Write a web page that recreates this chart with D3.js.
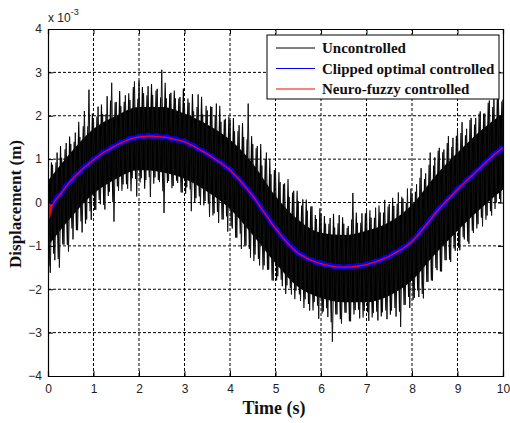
<!DOCTYPE html>
<html>
<head>
<meta charset="utf-8">
<script src="https://cdn.jsdelivr.net/npm/d3@7"></script>
<style>
  body { margin: 0; background: #fff; }
  svg { display: block; }
  .tick text { font-family: "Liberation Sans", Arial, sans-serif; font-size: 12px; fill: #222; }
  .lbl { font-family: "Liberation Serif", "Times New Roman", serif; font-weight: bold; fill: #111; }
</style>
</head>
<body>
<svg class="one"></svg>
<script>
// displacement values are in units of 1e-3 m (axis shows "x 10^-3")
var xTicks = [0,1,2,3,4,5,6,7,8,9,10];
var yTicks = [-4,-3,-2,-1,0,1,2,3,4];
var seriesNames = ['Uncontrolled','Clipped optimal controlled','Neuro-fuzzy controlled'];
var seriesColors = ['#000000','#0000ff','#ff0000'];

// sample times, every 0.1 s
var time = d3.range(101).map(function(i){ return i/10; });

// uncontrolled: long spike tips per sample
var uncontrolledHi = [1.03,0.87,1.15,1.03,1.37,1.35,1.61,1.51,2.11,2.60,
  1.93,2.21,2.04,2.45,2.76,2.32,2.22,2.47,2.36,2.79,
  2.81,2.52,2.68,2.48,2.62,3.06,2.40,2.53,2.40,2.43,
  2.25,2.30,2.10,2.49,2.03,2.12,2.20,2.28,1.86,1.93,
  1.90,1.64,1.78,1.51,2.28,1.35,1.30,0.85,1.15,0.65,
  0.75,0.47,0.44,0.13,0.27,0.03,0.07,-0.19,-0.09,-0.38,
  -0.26,-0.49,-0.36,-0.58,-0.29,-0.49,-0.54,0.22,-0.47,-0.25,
  -0.13,-0.35,-0.12,-0.23,0.06,-0.04,-0.08,0.23,0.09,0.32,
  0.20,0.42,0.79,0.67,1.15,1.04,1.26,1.22,1.53,1.49,
  1.70,1.85,1.70,1.95,1.95,2.10,2.05,2.35,2.40,2.38,
  2.37];
var uncontrolledLo = [-1.62,-1.33,-1.50,-0.97,-1.13,-0.85,-0.64,-0.69,-0.39,-0.40,
  -0.17,-0.04,-0.16,0.25,-0.44,0.27,0.42,0.32,0.56,0.14,
  0.56,0.52,0.13,0.58,0.47,-0.24,0.50,0.38,0.45,0.23,
  0.35,-0.20,0.10,-0.06,0.03,-0.33,-0.25,-0.47,-0.39,-0.67,
  -0.60,-0.81,-1.07,-0.99,-1.27,-1.20,-1.45,-1.45,-1.55,-1.80,
  -1.70,-1.93,-1.91,-2.12,-2.03,-2.27,-2.23,-2.49,-2.29,-2.68,
  -2.51,-2.64,-3.21,-2.58,-2.79,-2.54,-2.74,-2.48,-2.67,-2.50,
  -2.73,-2.55,-2.72,-2.53,-2.69,-2.49,-2.63,-2.87,-2.36,-2.43,
  -2.20,-2.18,-2.21,-1.83,-1.80,-1.56,-1.59,-1.33,-1.37,-1.11,
  -1.10,-0.85,-0.95,-0.70,-0.50,-0.55,-0.30,-0.30,0.00,-0.02,
  0.22];
// uncontrolled: medium spike tips, between the long ones
var uncontrolledHi2 = [0.93,0.92,1.30,1.23,1.52,1.40,1.86,1.76,1.76,2.05,
  1.98,2.26,2.04,2.35,2.31,2.57,2.32,2.52,2.66,2.39,
  2.66,2.47,2.73,2.58,2.42,2.76,2.50,2.58,2.40,2.63,
  2.40,2.50,2.20,2.44,2.23,2.22,2.00,2.23,1.91,1.98,
  1.95,1.64,1.83,1.46,1.53,1.25,1.35,1.00,1.00,0.75,
  0.70,0.42,0.54,0.23,0.27,-0.07,0.07,-0.09,-0.29,-0.13,
  -0.31,-0.49,-0.26,-0.48,-0.34,-0.59,-0.39,-0.23,-0.47,-0.25,
  -0.18,-0.35,-0.07,-0.23,-0.09,0.11,-0.03,0.13,-0.01,0.32,
  0.25,0.57,0.54,0.87,0.85,1.19,1.16,1.37,1.28,1.54,
  1.60,1.55,1.90,1.80,2.05,2.05,2.30,2.20,2.40,2.33,
  2.45];
var uncontrolledLo2 = [-1.47,-1.18,-1.30,-0.97,-0.98,-0.60,-0.64,-0.44,-0.49,-0.20,
  -0.17,0.06,-0.06,0.15,0.01,0.37,0.27,0.42,0.26,0.54,
  0.46,0.32,0.58,0.43,0.52,0.26,0.45,0.33,0.50,0.23,
  0.20,0.30,0.00,0.14,-0.07,-0.03,-0.30,-0.22,-0.39,-0.32,
  -0.55,-0.81,-0.72,-0.99,-1.07,-1.35,-1.30,-1.55,-1.55,-1.80,
  -1.80,-1.78,-2.11,-1.97,-2.23,-2.12,-2.43,-2.34,-2.49,-2.38,
  -2.56,-2.44,-2.76,-2.58,-2.69,-2.54,-2.74,-2.58,-2.47,-2.65,
  -2.53,-2.65,-2.52,-2.63,-2.49,-2.59,-2.43,-2.52,-2.36,-2.18,
  -2.25,-2.03,-2.11,-1.83,-1.80,-1.51,-1.59,-1.33,-1.32,-1.06,
  -1.05,-0.80,-0.90,-0.65,-0.60,-0.35,-0.40,-0.20,-0.15,0.08,
  0.15];

// uncontrolled: solid dense core, every 0.5 s
var coreTime = [0,0.5,1,1.5,2,2.5,3,3.5,4,4.5,5,5.5,6,6.5,7,7.5,8,8.5,9,9.5,10];
var coreHi = [0.5,1.15,1.7,2.0,2.2,2.2,2.05,1.8,1.45,0.9,0.15,-0.4,-0.7,-0.75,-0.65,-0.45,-0.05,0.6,1.15,1.65,2.05];
var coreLo = [-1.0,-0.35,0.2,0.55,0.75,0.7,0.55,0.25,-0.15,-0.75,-1.4,-1.95,-2.2,-2.3,-2.3,-2.15,-1.8,-1.2,-0.65,-0.15,0.3];

var clipped = [-0.25,-0.05,0.13,0.21,0.40,0.48,0.63,0.70,0.83,0.89,
  1.00,1.05,1.16,1.19,1.28,1.31,1.39,1.41,1.48,1.48,
  1.53,1.51,1.55,1.52,1.54,1.50,1.52,1.47,1.47,1.42,
  1.42,1.34,1.32,1.23,1.20,1.11,1.07,0.97,0.93,0.82,
  0.77,0.63,0.55,0.40,0.30,0.14,0.02,-0.16,-0.28,-0.46,
  -0.58,-0.74,-0.84,-0.98,-1.06,-1.18,-1.21,-1.30,-1.32,-1.39,
  -1.39,-1.45,-1.44,-1.49,-1.47,-1.50,-1.47,-1.49,-1.45,-1.46,
  -1.41,-1.41,-1.35,-1.34,-1.27,-1.25,-1.16,-1.13,-1.04,-0.99,
  -0.88,-0.79,-0.64,-0.54,-0.38,-0.27,-0.12,-0.04,0.10,0.18,
  0.32,0.39,0.52,0.59,0.72,0.79,0.92,0.99,1.12,1.17,
  1.29];

var neuro = [-0.17,-0.03,0.10,0.23,0.37,0.50,0.61,0.71,0.81,0.90,
  0.98,1.06,1.14,1.20,1.26,1.32,1.37,1.42,1.46,1.49,
  1.51,1.52,1.53,1.53,1.52,1.51,1.50,1.48,1.45,1.43,
  1.40,1.35,1.30,1.24,1.18,1.12,1.05,0.98,0.91,0.83,
  0.75,0.64,0.53,0.41,0.28,0.15,0.00,-0.15,-0.30,-0.45,
  -0.60,-0.73,-0.86,-0.97,-1.08,-1.17,-1.23,-1.29,-1.34,-1.38,
  -1.41,-1.44,-1.46,-1.48,-1.49,-1.49,-1.49,-1.48,-1.47,-1.45,
  -1.43,-1.40,-1.37,-1.33,-1.29,-1.24,-1.18,-1.12,-1.06,-0.98,
  -0.90,-0.78,-0.66,-0.53,-0.40,-0.26,-0.14,-0.03,0.08,0.19,
  0.30,0.40,0.50,0.60,0.70,0.80,0.90,1.00,1.10,1.18,
  1.27];
// start-up transient of the neuro-fuzzy response
var neuroStartTime = [0,0.01,0.02,0.03,0.04,0.05,0.06,0.08,0.1];
var neuroStart = [-0.40,0.00,-0.38,-0.02,-0.33,-0.05,-0.25,-0.10,-0.03];

var svgwidth = 510, svgheight = 423;
var margins = {top:29, bottom:47, left:48, right:7};

var svg = d3.select('.one').attr('width',svgwidth).attr('height',svgheight);

var xScale = d3.scaleLinear().domain([0,10]).range([margins.left, svgwidth - margins.right]);
var yScale = d3.scaleLinear().domain([-4,4]).range([svgheight - margins.bottom, margins.top]);

svg.append('defs').append('clipPath').attr('id','plotclip')
   .append('rect')
   .attr('x',xScale(0)).attr('y',yScale(4))
   .attr('width',xScale(10)-xScale(0)).attr('height',yScale(-4)-yScale(4));

// grid
var grid = svg.append('g');
grid.selectAll('.gx').data(xTicks.slice(1,-1)).enter().append('line')
    .attr('x1',function(d){return xScale(d);}).attr('x2',function(d){return xScale(d);})
    .attr('y1',yScale(-4)).attr('y2',yScale(4))
    .attr('stroke','#000').attr('stroke-width',1).attr('stroke-dasharray','3,2');
grid.selectAll('.gy').data(yTicks.slice(1,-1)).enter().append('line')
    .attr('y1',function(d){return yScale(d);}).attr('y2',function(d){return yScale(d);})
    .attr('x1',xScale(0)).attr('x2',xScale(10))
    .attr('stroke','#000').attr('stroke-width',1).attr('stroke-dasharray','3,2');

var plot = svg.append('g').attr('clip-path','url(#plotclip)');

// uncontrolled core band
var coreArea = d3.area()
    .x(function(d,i){return xScale(coreTime[i]);})
    .y0(function(d,i){return yScale(coreLo[i]);})
    .y1(function(d,i){return yScale(coreHi[i]);})
    .curve(d3.curveMonotoneX);
plot.append('path').datum(coreTime).attr('d',coreArea).attr('fill','#000');

var lineTV = d3.line()
    .x(function(d){return xScale(d.t);})
    .y(function(d){return yScale(d.v);});

// uncontrolled spikes: zigzag between upper and lower tips
var zig = [], zig2 = [];
time.forEach(function(t,i){
  zig.push({t:t, v:uncontrolledHi[i]});
  zig.push({t:t+0.05, v:uncontrolledLo[i]});
  zig2.push({t:t+0.025, v:uncontrolledLo2[i]});
  zig2.push({t:t+0.075, v:uncontrolledHi2[i]});
});
plot.append('path').datum(zig2).attr('d',lineTV)
    .attr('fill','none').attr('stroke','#000').attr('stroke-width',1.1);
plot.append('path').datum(zig).attr('d',lineTV)
    .attr('fill','none').attr('stroke','#111').attr('stroke-width',1);

// clipped optimal
var blueData = time.map(function(t,i){return {t:t, v:clipped[i]};});
plot.append('path').datum(blueData).attr('d',lineTV)
    .attr('fill','none').attr('stroke',seriesColors[1]).attr('stroke-width',5);

// neuro-fuzzy
var redData = time.map(function(t,i){return {t:t, v:neuro[i]};});
plot.append('path').datum(redData).attr('d',lineTV)
    .attr('fill','none').attr('stroke',seriesColors[2]).attr('stroke-width',1.3);
var redStart = neuroStartTime.map(function(t,i){return {t:t, v:neuroStart[i]};});
plot.append('path').datum(redStart).attr('d',lineTV)
    .attr('fill','none').attr('stroke',seriesColors[2]).attr('stroke-width',1.6);

// axes, MATLAB style inward ticks
var xAxis = d3.axisBottom(xScale).tickValues(xTicks).tickSize(-5).tickPadding(8);
var yAxis = d3.axisLeft(yScale).tickValues(yTicks).tickSize(-5).tickPadding(6);
svg.append('g').attr('transform','translate(0,'+yScale(-4)+')').call(xAxis);
svg.append('g').attr('transform','translate('+xScale(0)+',0)').call(yAxis);
svg.append('g').attr('transform','translate(0,'+yScale(4)+')')
   .call(d3.axisTop(xScale).tickValues(xTicks).tickSize(-5).tickFormat(''));
svg.append('g').attr('transform','translate('+xScale(10)+',0)')
   .call(d3.axisRight(yScale).tickValues(yTicks).tickSize(-5).tickFormat(''));
svg.selectAll('.domain').attr('stroke','#000').attr('stroke-width',1.2);
svg.selectAll('.tick line').attr('stroke','#000');

// exponent label
var expo = svg.append('text').attr('x',xScale(0)).attr('y',22)
    .style('font-family','"Liberation Sans", Arial, sans-serif').style('font-size','12px').attr('fill','#222');
expo.append('tspan').text('x 10');
expo.append('tspan').attr('dy',-7).style('font-size','9px').text('-3');

// axis titles
svg.append('text').attr('class','lbl')
   .attr('transform','translate(21,'+204+') rotate(-90)')
   .attr('text-anchor','middle').style('font-size','17px')
   .text('Displacement (m)');
svg.append('text').attr('class','lbl')
   .attr('x',274).attr('y',414).attr('text-anchor','middle').style('font-size','18px')
   .text('Time (s)');

// legend
var legend = svg.append('g').attr('transform','translate(267,35)');
legend.append('rect').attr('width',232).attr('height',64)
      .attr('fill','#fff').attr('stroke','#000').attr('stroke-width',1);
seriesNames.forEach(function(name,i){
  var yy = 13 + i*20.5;
  legend.append('line').attr('x1',9).attr('x2',48).attr('y1',yy).attr('y2',yy)
        .attr('stroke',seriesColors[i]).attr('stroke-width',1);
  legend.append('text').attr('class','lbl').attr('x',55).attr('y',yy+5)
        .style('font-size','15px').text(name);
});
</script>
</body>
</html>
